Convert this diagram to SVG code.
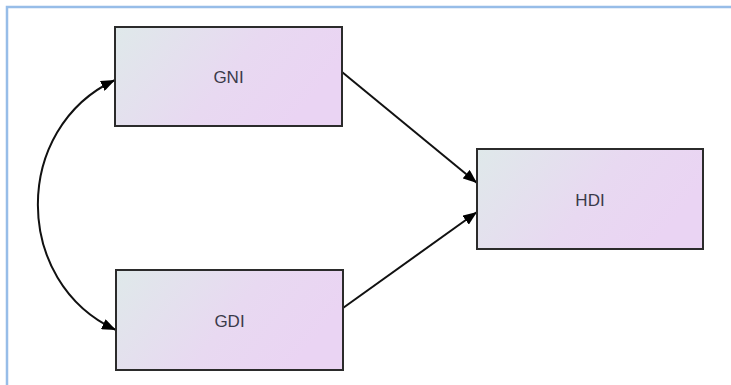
<svg xmlns="http://www.w3.org/2000/svg" width="731" height="385" viewBox="0 0 731 385">
  <style>
    .node rect { stroke: #2b2b2b; stroke-width: 2; fill: url(#boxFill); }
    .node text { font-family: "Liberation Sans", Arial, sans-serif; font-size: 17px; fill: #3a3a4a; text-anchor: middle; dominant-baseline: central; }
    .edge { fill: none; stroke: #111; stroke-width: 2; }
    .frame { fill: none; stroke: #97bde8; stroke-width: 2.5; }
  </style>
  <defs>
    <linearGradient id="boxFill" x1="0" y1="0" x2="1" y2="0.35">
      <stop offset="0" stop-color="#dfe9ea"/>
      <stop offset="0.6" stop-color="#e8d9f1"/>
      <stop offset="1" stop-color="#ead4f3"/>
    </linearGradient>
    <marker id="arrow" viewBox="0 0 14 11" refX="14" refY="5.5" markerWidth="14" markerHeight="11" markerUnits="userSpaceOnUse" orient="auto-start-reverse">
      <path d="M0,0 L14,5.5 L0,11 z" fill="#000"/>
    </marker>
  </defs>

  <rect width="731" height="385" fill="#fff"/>
  <!-- panel border (top and left edges) -->
  <path class="frame" d="M7,385 V7 H731"/>

  <g id="connectors">
    <path class="edge" d="M342,72 L477,183" marker-end="url(#arrow)"/>
    <path class="edge" d="M343,308 L477,212" marker-end="url(#arrow)"/>
    <path class="edge" d="M115,80 C12,128 12,282 116,330" marker-start="url(#arrow)" marker-end="url(#arrow)"/>
  </g>

  <g id="node-gni" class="node">
    <rect x="115" y="27" width="227" height="99"/>
    <text x="228.5" y="77">GNI</text>
  </g>
  <g id="node-gdi" class="node">
    <rect x="116" y="270" width="227" height="100"/>
    <text x="229.5" y="321">GDI</text>
  </g>
  <g id="node-hdi" class="node">
    <rect x="477" y="149" width="226" height="100"/>
    <text x="590" y="200">HDI</text>
  </g>
</svg>
